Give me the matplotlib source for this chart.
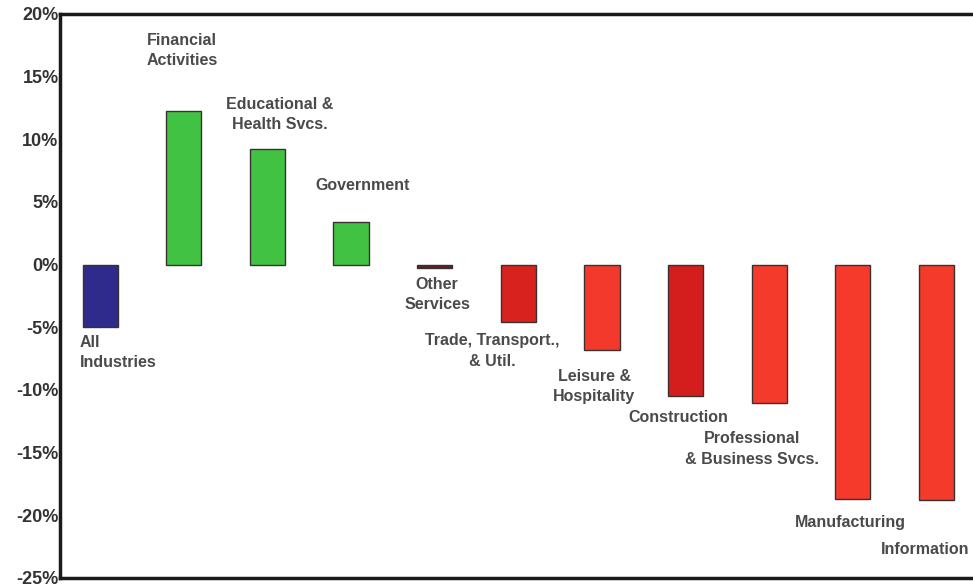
import matplotlib.pyplot as plt

# Percent change in employment by industry
industries = ['All\nIndustries', 'Financial\nActivities', 'Educational &\nHealth Svcs.',
              'Government', 'Other\nServices', 'Trade, Transport.,\n& Util.',
              'Leisure &\nHospitality', 'Construction', 'Professional\n& Business Svcs.',
              'Manufacturing', 'Information']
change = [-5.0, 12.3, 9.2, 3.4, -0.3, -4.6, -6.8, -10.5, -11.0, -18.7, -18.8]
colors = ['#2f2b8c', '#42c242', '#42c242', '#42c242', '#5c2028', '#d8221e',
          '#f2392c', '#d41e1e', '#f43a2b', '#f53a2b', '#f33a2b']

# label anchors (x in bar units, y in %)
label_x = [-0.24, 0.56, 2.15, 3.14, 4.03, 4.69, 5.91, 6.91, 7.79, 8.97, 9.87]
label_y = [-7.0, 17.1, 12.0, 6.3, -2.4, -6.9, -9.7, -12.2, -14.7, -20.6, -22.7]
label_ha = ['left', 'left', 'center', 'center', 'center', 'center', 'center',
            'center', 'center', 'center', 'center']
yticks = [20, 15, 10, 5, 0, -5, -10, -15, -20, -25]

plt.rcParams['font.family'] = ['Liberation Sans', 'DejaVu Sans']

fig = plt.figure(figsize=(9.73, 5.84), dpi=100)
ax = fig.add_axes([60 / 973, 6 / 584, 925 / 973, 564 / 584])

x = list(range(len(change)))
ax.bar(x, change, width=0.42, color=colors, edgecolor='#3a3030', linewidth=1.0, zorder=2)

for lx, ly, name, ha in zip(label_x, label_y, industries, label_ha):
    ax.text(lx, ly, name, ha=ha, va='center', fontsize=11.5, fontweight='bold',
            color='#4a4a4a', linespacing=1.45)

ax.set_xlim(-0.48, 10.58)
ax.set_ylim(-25, 20)
ax.set_yticks(yticks)
ax.set_yticklabels([f'{t}%' for t in yticks], fontsize=13, fontweight='bold', color='#333333')
ax.set_xticks([])
ax.tick_params(axis='y', length=0, pad=1)

for side in ['left', 'top', 'bottom']:
    ax.spines[side].set_linewidth(2.5)
    ax.spines[side].set_color('#1a1a1a')
ax.spines['right'].set_visible(False)

fig.savefig('out.png', dpi=100)
